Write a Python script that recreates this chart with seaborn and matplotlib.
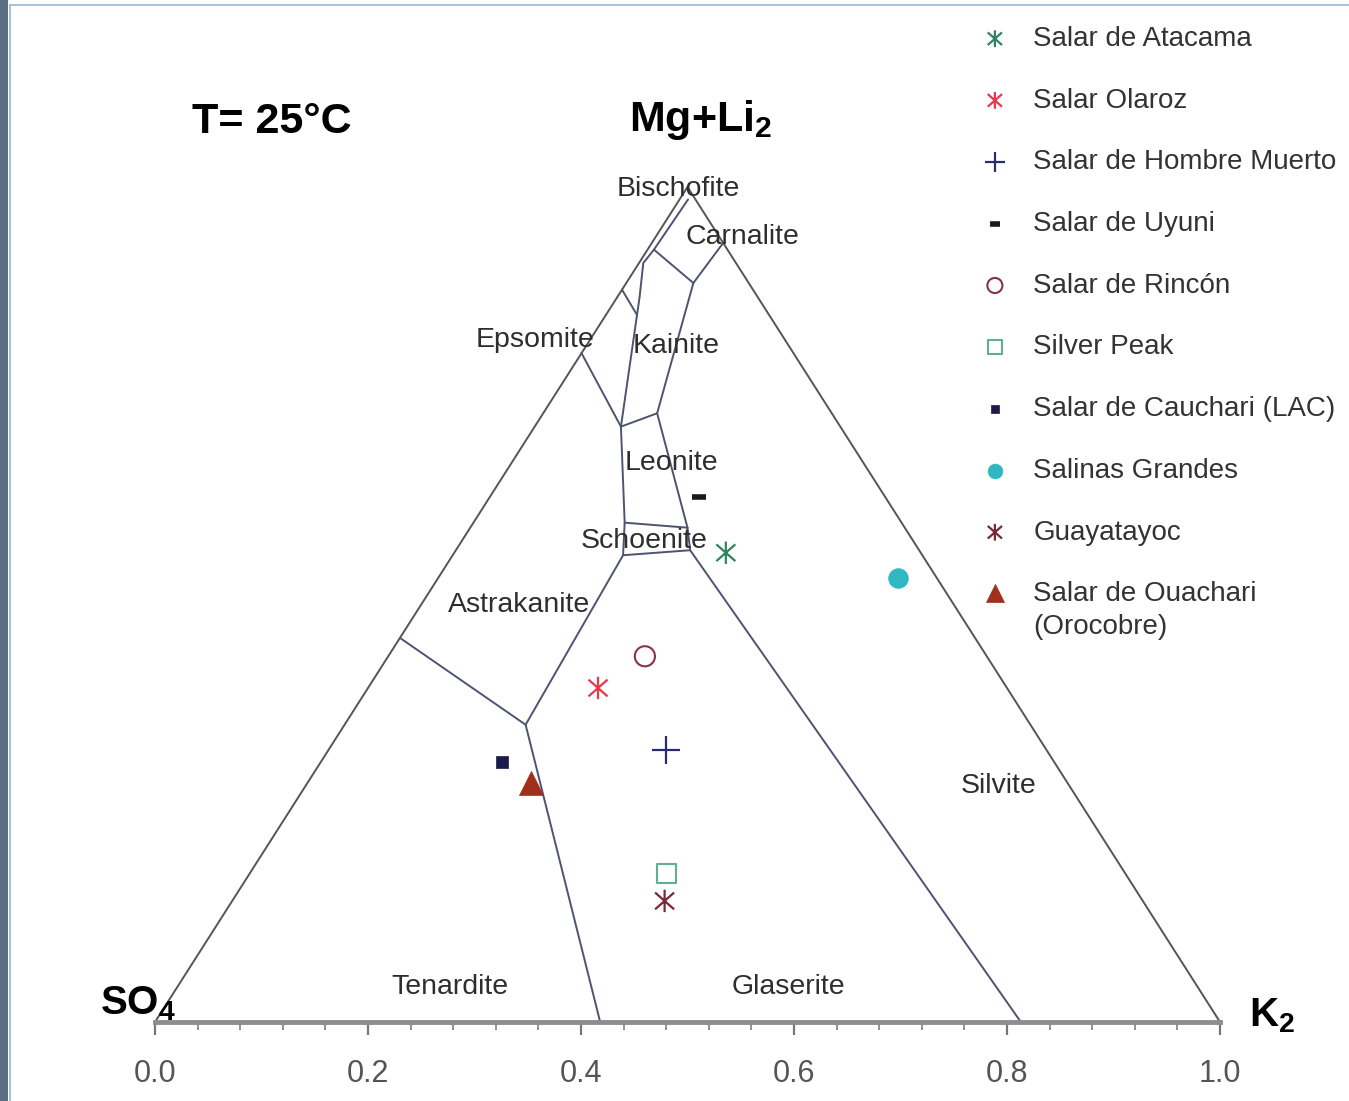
import numpy as np
import matplotlib
matplotlib.use('Agg')
import matplotlib.pyplot as plt
import seaborn as sns
from matplotlib.path import Path
from matplotlib.lines import Line2D
from matplotlib.patches import Rectangle

# brine compositions: fraction of K2 and of Mg+Li2 (rest is SO4)
sites = ['Salar de Atacama', 'Salar Olaroz', 'Salar de Hombre Muerto', 'Salar de Uyuni',
         'Salar de Rincón', 'Silver Peak', 'Salar de Cauchari (LAC)', 'Salinas Grandes',
         'Guayatayoc', 'Salar de Ouachari\n(Orocobre)']
site_k = [0.255, 0.216, 0.317, 0.196, 0.241, 0.391, 0.170, 0.432, 0.406, 0.210]
site_mg = [0.562, 0.400, 0.326, 0.629, 0.438, 0.178, 0.311, 0.532, 0.145, 0.286]

# phase field boundaries (Jänecke projection, 25 °C), one polyline each
bound_k = [
    [0.000, 0.170, 0.418],
    [0.170, 0.160, 0.220, 0.813],
    [0.160, 0.142, 0.081, 0.000],
    [0.142, 0.204, 0.220],
    [0.204, 0.107, 0.063, 0.067],
    [0.081, 0.107],
    [0.081, 0.021, 0.004, 0.006, 0.008],
    [0.006, 0.063],
    [0.000, 0.029],
]
bound_mg = [
    [0.460, 0.356, 0.000],
    [0.356, 0.559, 0.565, 0.000],
    [0.559, 0.598, 0.713, 0.801],
    [0.598, 0.592, 0.565],
    [0.592, 0.729, 0.885, 0.933],
    [0.713, 0.729],
    [0.713, 0.868, 0.909, 0.925, 0.985],
    [0.925, 0.885],
    [0.877, 0.847],
]

# field names and where they sit (bottom-axis value, Mg+Li2 fraction)
fields = ['Bischofite', 'Carnalite', 'Epsomite', 'Kainite', 'Leonite', 'Schoenite',
          'Astrakanite', 'Tenardite', 'Glaserite', 'Silvite']
field_x = [0.491, 0.552, 0.357, 0.489, 0.4845, 0.459, 0.342, 0.277, 0.595, 0.7925]
field_y = [0.998, 0.940, 0.817, 0.810, 0.670, 0.576, 0.499, 0.042, 0.042, 0.283]

ticks = [0.0, 0.2, 0.4, 0.6, 0.8, 1.0]


def tern(k, mg):
    k = np.asarray(k, dtype=float)
    mg = np.asarray(mg, dtype=float)
    return k + mg / 2, mg


asterisk = Path([(0, -1), (0, 1), (-0.85, -0.75), (0.85, 0.75), (-0.85, 0.75), (0.85, -0.75)],
                [Path.MOVETO, Path.LINETO] * 3)
markers = [asterisk, asterisk, '+', '_', 'o', 's', 's', 'o', asterisk, '^']
kinds = ['line', 'line', 'line', 'line', 'open', 'open', 'fill', 'fill', 'line', 'fill']
colors = ['#2f8462', '#e8384c', '#2b2b70', '#1a1a1a', '#8a3345', '#5fb08e',
          '#1b1b4b', '#2fb8c2', '#7a2838', '#a0301c']
sizes = [260, 260, 380, 90, 210, 190, 70, 200, 260, 300]

sns.set_theme(style='white')
plt.rcParams['font.family'] = ['Liberation Sans', 'DejaVu Sans']
plt.rcParams['mathtext.fontset'] = 'custom'
plt.rcParams['mathtext.rm'] = 'Liberation Sans'
plt.rcParams['mathtext.bf'] = 'Liberation Sans:bold'
plt.rcParams['mathtext.default'] = 'regular'

W, H = 1349, 1101
X0, XS, Y0, YS = 155, 1065, 1022, 835
fig = plt.figure(figsize=(W / 100, H / 100), dpi=100)
fig.patch.set_facecolor('white')
ax = fig.add_axes([0, 0, 1, 1])
ax.set_facecolor('white')
ax.set_xlim(-X0 / XS, (W - X0) / XS)
ax.set_ylim(-(H - Y0) / YS, Y0 / YS)

# triangle outline
sns.lineplot(x=[0, 0.5, 1], y=[0, 1, 0], sort=False, estimator=None,
             color='#555555', lw=1.4, ax=ax)

# phase boundaries
for bk, bm in zip(bound_k, bound_mg):
    bx, by = tern(bk, bm)
    sns.lineplot(x=bx, y=by, sort=False, estimator=None, color='#4d5470', lw=1.4, ax=ax)

# samples
for name, k, mg, mk, kind, c, s in zip(sites, site_k, site_mg, markers, kinds, colors, sizes):
    x, y = tern(k, mg)
    kw = dict(marker=mk, s=s, label=name, ax=ax, zorder=5)
    if mk is asterisk:
        kw.update(facecolor='none', edgecolor=c, linewidth=1.6)
    elif kind == 'open':
        kw.update(facecolor='none', edgecolor=c, linewidth=1.5)
    elif kind == 'fill':
        kw.update(color=c, edgecolor=c, linewidth=0.5)
    else:
        kw.update(color=c, linewidth=1.6 if mk == '+' else 4)
    sns.scatterplot(x=[float(x)], y=[float(y)], **kw)

for f, fx, fy in zip(fields, field_x, field_y):
    ax.text(fx, fy, f, ha='center', va='center', fontsize=20.5, color='#2e2e2e', zorder=4)

ax.text(0.110, 1.078, 'T= 25°C', ha='center', va='center', fontsize=31,
        fontweight='bold', color='black')
ax.text(0.512, 1.080, r'Mg+Li$_2$', ha='center', va='center', fontsize=31,
        fontweight='bold', color='black')
ax.text(-0.016, 0.022, r'SO$_4$', ha='center', va='center', fontsize=29,
        fontweight='bold', color='black')
ax.text(1.049, 0.008, r'K$_2$', ha='center', va='center', fontsize=29,
        fontweight='bold', color='black')

# bottom axis along the triangle base
for side in ['top', 'left', 'right']:
    ax.spines[side].set_visible(False)
ax.spines['bottom'].set_position(('data', 0))
ax.spines['bottom'].set_bounds(0, 1)
ax.spines['bottom'].set_color('#8e8e8e')
ax.spines['bottom'].set_linewidth(3.5)
ax.set_xticks(ticks)
ax.set_xticklabels([f'{t:.1f}' for t in ticks])
ax.set_xticks(np.linspace(0, 1, 26), minor=True)
ax.set_yticks([])
ax.tick_params(axis='x', which='major', direction='out', length=9, width=1.6,
               color='#777777', pad=17.5, labelsize=22, labelcolor='#555555', bottom=True)
ax.tick_params(axis='x', which='minor', direction='out', length=6, width=1.3,
               color='#888888', bottom=True)
ax.grid(False)

leg = ax.legend(loc='upper left', bbox_to_anchor=(981 / W, 1 - 26 / H),
                bbox_transform=fig.transFigure, frameon=False, fontsize=20,
                labelspacing=1.285, handlelength=1.0, handletextpad=0.88,
                borderpad=0, borderaxespad=0, markerscale=0.75, labelcolor='#333333')
leg.get_texts()[-1].set_linespacing(1.32)
# keep the two-line entry's marker beside its first line
last_row = leg._legend_handle_box.get_children()[-1].get_children()[-1]
last_row.align = 'top'

# screenshot frame
fig.add_artist(Rectangle((0, 0), 8 / W, 1, transform=fig.transFigure, color='#5a6f86', lw=0))
fig.add_artist(Line2D([10 / W, 1], [1 - 5 / H, 1 - 5 / H], transform=fig.transFigure,
                      color='#9db4d6', lw=1.2))
fig.add_artist(Line2D([10 / W, 10 / W], [0, 1 - 5 / H], transform=fig.transFigure,
                      color='#9db4d6', lw=1.2))

fig.savefig('out.png', dpi=100)
